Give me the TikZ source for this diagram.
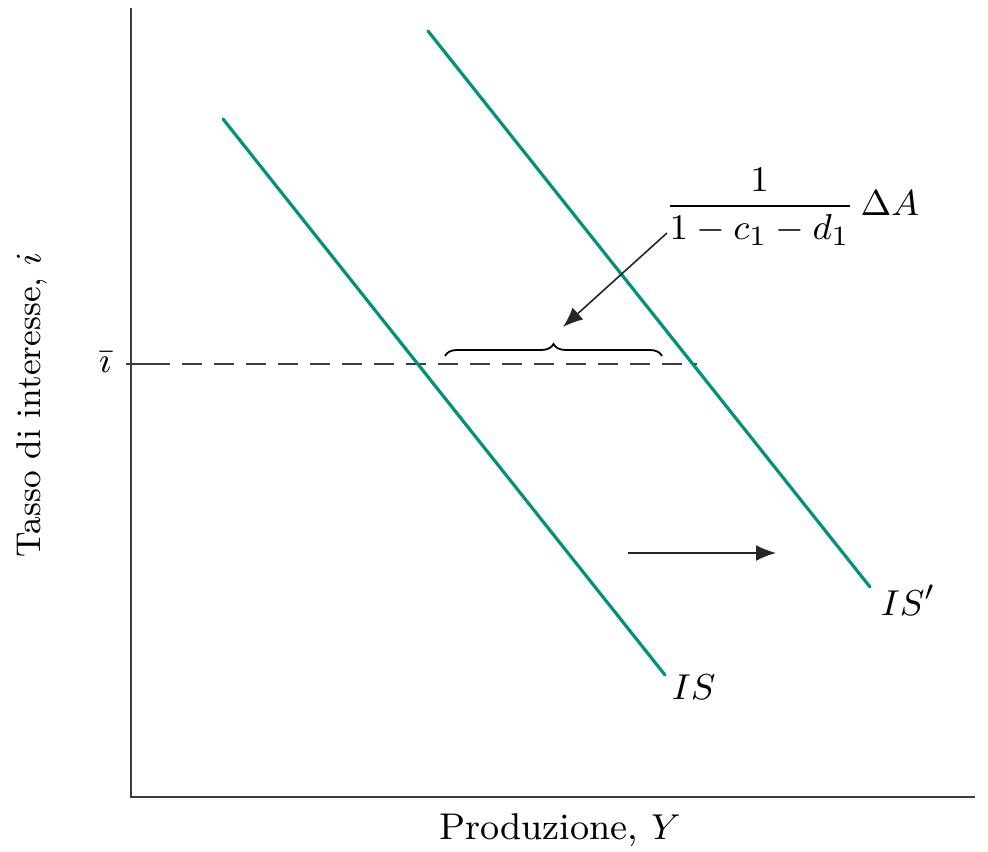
\documentclass[tikz,border=0pt]{standalone}
\usepackage{amsmath}
\usetikzlibrary{decorations.pathreplacing,arrows.meta}
\definecolor{isgreen}{RGB}{0,146,122}
\definecolor{axisgray}{RGB}{60,60,60}
\tikzset{
  axisline/.style={draw=axisgray,line width=0.55pt},
  curve/.style={draw=isgreen,line width=0.8pt,line cap=round},
  guide/.style={draw=axisgray,line width=0.4pt,dash pattern=on 5pt off 3pt},
  pointer/.style={draw=black!85,line width=0.4pt,-{Latex[length=5pt,width=4pt]}},
  lbl/.style={inner sep=0pt,font=\fontsize{9.3}{11}\selectfont}
}
\begin{document}
\begin{tikzpicture}[x=0.25pt,y=-0.25pt]
\useasboundingbox (0,0) rectangle (988,852);
% axes
\coordinate (top) at (131,8);
\coordinate (origin) at (131,797);
\coordinate (right) at (975,797);
\draw[axisline] (top) -- (origin) -- (right);
% tick and dashed guide
\coordinate (tick0) at (126,364);
\coordinate (tick1) at (150,364);
\coordinate (dashend) at (697,364);
\draw[axisline,line width=0.4pt] (tick0) -- (tick1);
\draw[guide] (tick1) -- (dashend);
\node[lbl,anchor=east] (ibar) at (112,362) {$\bar{\imath}$};
% IS curves
\coordinate (is0) at (223,119);
\coordinate (is1) at (665,675);
\coordinate (isp0) at (428,31);
\coordinate (isp1) at (870,587);
\draw[curve] (is0) -- (is1);
\draw[curve] (isp0) -- (isp1);
\node[lbl,anchor=north west] (islbl) at (671,674) {$IS$};
\node[lbl,anchor=north west] (isplbl) at (880,584) {$IS'$};
% brace
\coordinate (br0) at (445,356);
\coordinate (br1) at (662,356);
\draw[line width=0.45pt,decorate,decoration={brace,amplitude=3pt}] (br0) -- (br1);
% multiplier label and pointer
\node[lbl,anchor=center] (mult) at (792,207) {$\dfrac{1}{1-c_1-d_1}\,\Delta A$};
\coordinate (pstart) at (667,233);
\coordinate (pend) at (563,327);
\draw[pointer] (pstart) -- (pend);
% shift arrow
\coordinate (sh0) at (628,553);
\coordinate (sh1) at (776,553);
\draw[pointer] (sh0) -- (sh1);
% axis labels
\node[lbl] (xlbl) at (560,830) {Produzione, $Y$};
\node[lbl,rotate=90,font=\fontsize{8.6}{10}\selectfont] (ylbl) at (32,405) {Tasso di interesse, $i$};
\end{tikzpicture}
\end{document}
